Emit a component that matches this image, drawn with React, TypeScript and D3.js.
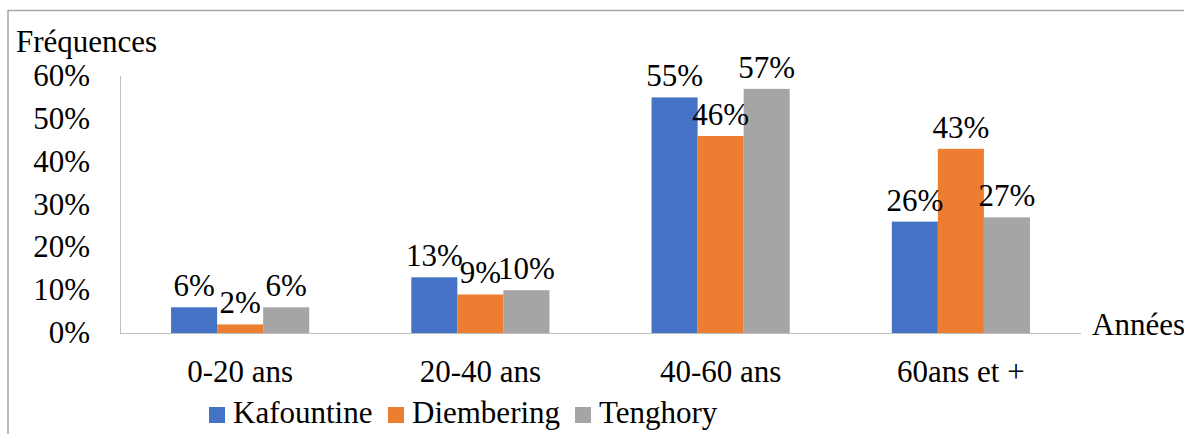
import React from "react";
import * as d3 from "d3";

const categories = ["0-20 ans", "20-40 ans", "40-60 ans", "60ans et +"];
const seriesNames = ["Kafountine", "Diembering", "Tenghory"];
const kafountine = [6, 13, 55, 26];
const diembering = [2, 9, 46, 43];
const tenghory = [6, 10, 57, 27];
const yTicks = [0, 10, 20, 30, 40, 50, 60];
const colors = ["#4472C4", "#ED7D31", "#A5A5A5"];

const W = 1184;
const H = 434;
const FS = 31;
const ff = { fontFamily: '"Liberation Serif"' };

function T(props: any) {
  const { children, ...rest } = props;
  return (
    <text fontSize={FS} fontFamily="Liberation Serif" style={ff} {...rest}>
      {children}
    </text>
  );
}

export default function App() {
  const series = [kafountine, diembering, tenghory];
  const x0 = d3.scaleBand<string>().domain(categories).range([120, 1081]).paddingInner(0.425).paddingOuter(0.2125);
  const x1 = d3.scaleBand<string>().domain(seriesNames).range([0, x0.bandwidth()]);
  const y = d3.scaleLinear().domain([0, 60]).range([333, 76]);

  const legendX = [209, 388, 575];

  return (
    <svg width={W} height={H} style={{ position: "absolute", left: 0, top: 0 }}>
      <line x1={8} y1={10.5} x2={W} y2={10.5} stroke="#a6a6a6" strokeWidth={1.5} />
      <line x1={8} y1={10} x2={8} y2={H} stroke="#a6a6a6" strokeWidth={1.5} />
      <T x={16} y={52}>Fréquences</T>
      <line x1={120.5} y1={y(60)} x2={120.5} y2={y(0)} stroke="#bfbfbf" strokeWidth={1} />
      {yTicks.map((t) => (
        <T key={t} x={90} y={y(t) + 10} textAnchor="end">{t}%</T>
      ))}
      {categories.map((c, i) => (
        <g key={c} transform={`translate(${x0(c)},0)`}>
          {series.map((s, j) => (
            <rect key={j} x={x1(seriesNames[j])!} y={y(s[i])} width={x1.bandwidth()} height={y(0) - y(s[i])} fill={colors[j]} />
          ))}
          {series.map((s, j) => (
            <T key={"l" + j} x={x1(seriesNames[j])! + x1.bandwidth() / 2} y={y(s[i]) - 11} textAnchor="middle">{s[i]}%</T>
          ))}
          <T x={x0.bandwidth() / 2} y={382} textAnchor="middle">{c}</T>
        </g>
      ))}
      <line x1={120} y1={333.5} x2={1081} y2={333.5} stroke="#bfbfbf" strokeWidth={1} />
      <T x={1092} y={335}>Années</T>
      {seriesNames.map((n, j) => (
        <g key={n}>
          <rect x={legendX[j]} y={407} width={16} height={16} fill={colors[j]} />
          <T x={legendX[j] + 24} y={423}>{n}</T>
        </g>
      ))}
    </svg>
  );
}
